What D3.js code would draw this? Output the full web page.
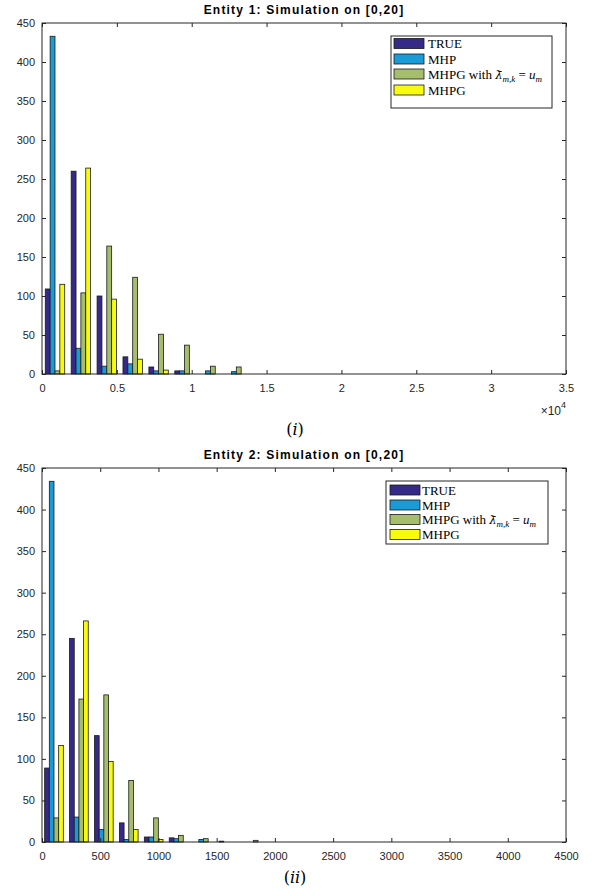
<!DOCTYPE html>
<html>
<head>
<meta charset="utf-8">
<script src="https://cdn.jsdelivr.net/npm/d3@7"></script>
<style>
  body { margin: 0; background: #fff; }
  svg { display: block; }
  .tick text { font-family: "Liberation Sans", Arial, sans-serif; font-size: 11px; fill: #262626; }
  .tick line { stroke: #262626; }
  .title { font-family: "Liberation Sans", Arial, sans-serif; font-size: 12px; font-weight: bold; letter-spacing: 1.2px; }
  .legend text { font-family: "Liberation Serif", "DejaVu Serif", serif; font-size: 13px; fill: #000; }
</style>
</head>
<body>
<div id="chart"></div>
<script>
const seriesNames = ["TRUE", "MHP", "MHPG with", "MHPG"];
const seriesColors = ["#352a87", "#1a9bd6", "#a5be6b", "#f9fb0e"];

// Entity 1 histogram
const binCenters1 = [868, 2598, 4328, 6058, 7788, 9518, 11248, 12978, 14708, 16438];
const trueCounts1 = [109, 260, 100, 22, 9, 4, 0, 0, 0, 0];
const mhpCounts1 = [433, 33, 10, 13, 4, 4, 4, 3, 0, 0];
const mhpgUmCounts1 = [4, 104, 164, 124, 51, 37, 10, 9, 0, 0];
const mhpgCounts1 = [115, 264, 96, 19, 5, 0, 0, 0, 0, 0];
const xTicks1 = [0, 5000, 10000, 15000, 20000, 25000, 30000, 35000];

// Entity 2 histogram
const binCenters2 = [103, 317, 531, 745, 959, 1173, 1387, 1601, 1815, 2029];
const trueCounts2 = [89, 245, 128, 23, 6, 5, 0, 1, 0, 0];
const mhpCounts2 = [434, 30, 15, 3, 6, 4, 3, 0, 0, 0];
const mhpgUmCounts2 = [29, 172, 177, 74, 29, 8, 4, 0, 2, 0];
const mhpgCounts2 = [116, 266, 97, 15, 3, 0, 0, 0, 0, 0];
const xTicks2 = [0, 500, 1000, 1500, 2000, 2500, 3000, 3500, 4000, 4500];

const yTicks = [0, 50, 100, 150, 200, 250, 300, 350, 400, 450];

const svg = d3.select("#chart").append("svg")
    .attr("width", 592)
    .attr("height", 890);

function drawPanel(cfg) {
  const w = cfg.right - cfg.left, h = cfg.bottom - cfg.top;
  const g = svg.append("g").attr("transform", "translate(" + cfg.left + "," + cfg.top + ")");

  const x = d3.scaleLinear().domain([0, cfg.xMax]).range([0, w]);
  const y = d3.scaleLinear().domain([0, 450]).range([h, 0]);

  const binWidth = cfg.centers[1] - cfg.centers[0];
  const groupWidth = x(binWidth * 0.75) - x(0);
  const inner = d3.scaleBand().domain(d3.range(cfg.series.length)).range([-groupWidth / 2, groupWidth / 2]);

  // bars
  cfg.series.forEach((vals, si) => {
    g.append("g").selectAll("rect")
      .data(vals.map((v, i) => ({ v: v, c: cfg.centers[i] })).filter(d => d.v > 0))
      .join("rect")
        .attr("x", d => x(d.c) + inner(si))
        .attr("y", d => y(d.v))
        .attr("width", inner.bandwidth())
        .attr("height", d => y(0) - y(d.v))
        .attr("fill", seriesColors[si])
        .attr("stroke", "#1a1a1a")
        .attr("stroke-width", 0.8);
  });

  // axes, ticks inward on all four sides
  g.append("g").attr("transform", "translate(0," + h + ")")
    .call(d3.axisBottom(x).tickValues(cfg.xTicks).tickFormat(cfg.xFormat).tickSize(-4).tickSizeOuter(0).tickPadding(10))
    .call(a => a.select(".domain").remove());
  g.append("g")
    .call(d3.axisTop(x).tickValues(cfg.xTicks).tickFormat("").tickSize(-4).tickSizeOuter(0))
    .call(a => a.select(".domain").remove());
  g.append("g")
    .call(d3.axisLeft(y).tickValues(yTicks).tickSize(-4).tickSizeOuter(0).tickPadding(7))
    .call(a => a.select(".domain").remove());
  g.append("g").attr("transform", "translate(" + w + ",0)")
    .call(d3.axisRight(y).tickValues(yTicks).tickFormat("").tickSize(-4).tickSizeOuter(0))
    .call(a => a.select(".domain").remove());

  g.append("rect")
    .attr("width", w).attr("height", h)
    .attr("fill", "none").attr("stroke", "#262626").attr("stroke-width", 1);

  // title
  svg.append("text").attr("class", "title")
    .attr("x", cfg.left + w / 2).attr("y", cfg.top - 9)
    .attr("text-anchor", "middle")
    .text(cfg.title);

  // legend
  const lg = svg.append("g").attr("class", "legend");
  lg.append("rect")
    .attr("x", cfg.legend.x).attr("y", cfg.legend.y)
    .attr("width", cfg.legend.w).attr("height", cfg.legend.h)
    .attr("fill", "#fff").attr("stroke", "#262626").attr("stroke-width", 1);
  seriesNames.forEach((name, i) => {
    const cy = cfg.legend.rows[i];
    lg.append("rect")
      .attr("x", cfg.legend.sx).attr("y", cy - 5)
      .attr("width", cfg.legend.sw).attr("height", 10)
      .attr("fill", seriesColors[i]).attr("stroke", "#1a1a1a").attr("stroke-width", 0.8);
    const t = lg.append("text").attr("x", cfg.legend.tx).attr("y", cy + 4.5);
    t.append("tspan").text(name);
    if (i === 2) {
      t.append("tspan").text(" ");
      t.append("tspan").attr("font-style", "italic").attr("font-family", "DejaVu Serif, serif")
        .attr("font-size", "11.5px").text("\u03bb\u0304");
      t.append("tspan").attr("font-style", "italic").attr("font-size", "9px").attr("dy", 3).text("m,k");
      t.append("tspan").attr("dy", -3).text(" = ");
      t.append("tspan").attr("font-style", "italic").text("u");
      t.append("tspan").attr("font-style", "italic").attr("font-size", "9px").attr("dy", 3).text("m");
    }
  });

  // caption
  const cap = svg.append("text")
    .attr("x", 295).attr("y", cfg.captionY)
    .attr("text-anchor", "middle")
    .attr("font-family", "DejaVu Serif, serif")
    .attr("font-size", "16px");
  cap.append("tspan").text("(");
  cap.append("tspan").attr("font-style", "italic").text(cfg.caption);
  cap.append("tspan").text(")");
}

drawPanel({
  left: 42, right: 566, top: 23, bottom: 374,
  xMax: 35000, xTicks: xTicks1, xFormat: d => d3.format("")(d / 10000),
  centers: binCenters1,
  series: [trueCounts1, mhpCounts1, mhpgUmCounts1, mhpgCounts1],
  title: "Entity 1: Simulation on [0,20]",
  legend: { x: 391, y: 36, w: 161, h: 72, sx: 394, sw: 30, tx: 428, rows: [43.5, 59, 74, 90] },
  caption: "i", captionY: 435
});

drawPanel({
  left: 42, right: 566, top: 468, bottom: 842,
  xMax: 4500, xTicks: xTicks2, xFormat: d3.format("d"),
  centers: binCenters2,
  series: [trueCounts2, mhpCounts2, mhpgUmCounts2, mhpgCounts2],
  title: "Entity 2: Simulation on [0,20]",
  legend: { x: 386, y: 481, w: 162, h: 63, sx: 390, sw: 30, tx: 422, rows: [490, 505, 519.5, 534.5] },
  caption: "ii", captionY: 883
});

// exponent label for the first panel
const ex = svg.append("text")
  .attr("x", 566).attr("y", 415)
  .attr("text-anchor", "end")
  .attr("font-family", "Liberation Sans, Arial, sans-serif")
  .attr("font-size", "12px")
  .attr("fill", "#262626");
ex.append("tspan").text("\u00d710");
ex.append("tspan").attr("dy", -7).attr("font-size", "9px").text("4");
</script>
</body>
</html>
